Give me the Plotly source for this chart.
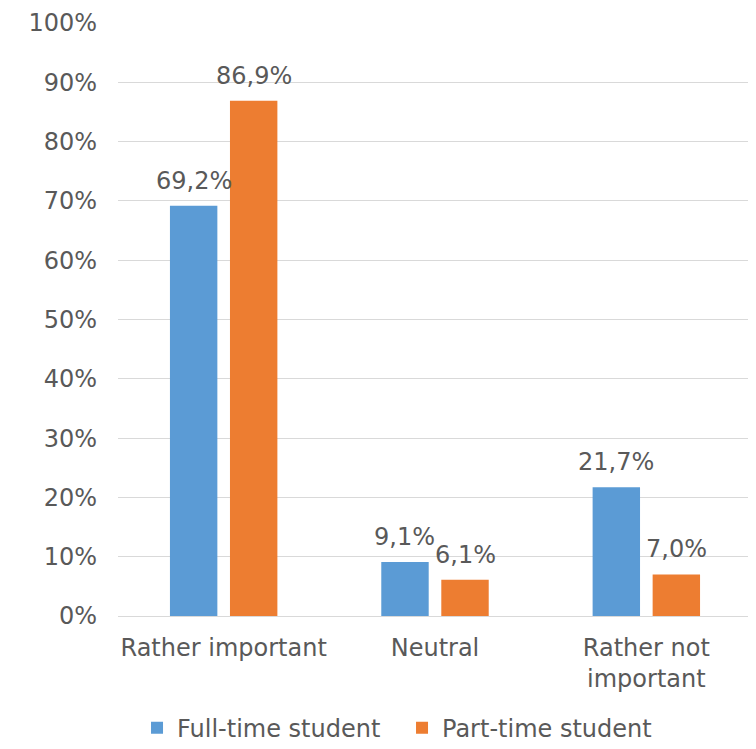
import plotly.graph_objects as go

categories = ["Rather important", "Neutral", "Rather not<br>important"]
full_time = [69.2, 9.1, 21.7]
part_time = [86.9, 6.1, 7.0]
series_names = ["Full-time student", "Part-time student"]
colors = ["#5B9BD5", "#ED7D31"]

FONT = "DejaVu Sans"
TXT = "#595959"
FS = 24
BARGAP = 0.432
GROUPGAP = 0.21

fig = go.Figure()
for name, vals, col in zip(series_names, [full_time, part_time], colors):
    fig.add_trace(go.Bar(
        x=categories, y=vals, name=name, marker_color=col,
        marker_line_width=0,
    ))

# data labels placed above each bar
slot = (1 - BARGAP) / 2
for si, vals in enumerate([full_time, part_time]):
    off = (si - 0.5) * slot
    for ci, v in enumerate(vals):
        fig.add_annotation(
            x=ci + off, y=v, xref="x", yref="y",
            text=f"{v:.1f}%".replace(".", ","),
            showarrow=False, yanchor="bottom", xanchor="center", yshift=9,
            font=dict(family=FONT, size=FS, color=TXT),
        )

fig.update_layout(
    width=748, height=741,
    margin=dict(l=110, r=4, t=15, b=133, autoexpand=False),
    paper_bgcolor="white", plot_bgcolor="white",
    barmode="group", bargap=BARGAP, bargroupgap=GROUPGAP,
    font=dict(family=FONT, size=FS, color=TXT),
    yaxis=dict(range=[0, 100], dtick=10, ticksuffix="%", automargin=False,
               gridcolor="#D9D9D9", gridwidth=1, zeroline=False,
               showline=False, ticklabelstandoff=20,
               tickfont=dict(family=FONT, size=FS, color=TXT)),
    xaxis=dict(showline=True, linecolor="#D9D9D9", linewidth=1, automargin=False,
               ticks="", ticklabelstandoff=10,
               tickfont=dict(family=FONT, size=FS, color=TXT)),
    legend=dict(orientation="h", x=0.03, xanchor="left", y=-0.189, yanchor="middle",
                font=dict(family=FONT, size=FS, color=TXT),
                entrywidth=220, traceorder="normal"),
    showlegend=True,
)

fig.write_html("out.html")
